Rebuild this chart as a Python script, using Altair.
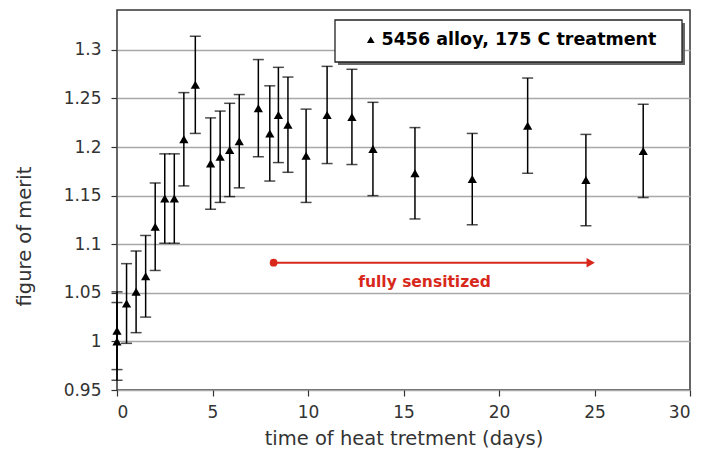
import altair as alt
import pandas as pd

# ---- data ----
days = [0, 0, 0.5, 1.0, 1.5, 2.0, 2.5, 3.0, 3.5, 4.1, 4.9, 5.4, 5.9, 6.4,
        7.4, 8.0, 8.45, 8.95, 9.9, 11.0, 12.3, 13.4, 15.6, 18.6, 21.5, 24.55, 27.55]
merit = [1.011, 1.000, 1.039, 1.051, 1.067, 1.118, 1.147, 1.147, 1.208, 1.264, 1.183, 1.190, 1.197, 1.206,
         1.240, 1.214, 1.233, 1.223, 1.191, 1.233, 1.231, 1.198, 1.173, 1.167, 1.222, 1.166, 1.196]
err = [0.040, 0.040, 0.041, 0.042, 0.042, 0.045, 0.046, 0.046, 0.048, 0.050, 0.047, 0.047, 0.048, 0.048,
       0.050, 0.049, 0.049, 0.049, 0.048, 0.050, 0.049, 0.048, 0.047, 0.047, 0.049, 0.047, 0.048]
series_name = "5456 alloy, 175 C treatment"

x_ticks = [0, 5, 10, 15, 20, 25, 30]
y_ticks = [0.95, 1.0, 1.05, 1.1, 1.15, 1.2, 1.25, 1.3]

arrow_start = [8.2]
arrow_end = [24.8]
arrow_level = [1.081]
note_text = ["fully sensitized"]
note_x = [16.1]
note_y = [1.061]

RED = "#d8281c"
FONT = "DejaVu Sans"

df = pd.DataFrame({"day": days, "merit": merit, "err": err})
df["lo"] = df["merit"] - df["err"]
df["hi"] = df["merit"] + df["err"]
df["series"] = series_name

xs = alt.Scale(domain=[0, 30], nice=False)
ys = alt.Scale(domain=[0.95, 1.341], nice=False, zero=False)

x_axis = alt.Axis(values=x_ticks, title="time of heat tretment (days)", grid=False,
                  tickSize=6, labelPadding=8, titlePadding=9)
y_axis = alt.Axis(values=y_ticks, format=".2~f", title="figure of merit", grid=True,
                  tickSize=6, labelPadding=10, titlePadding=29, titleY=226)

base = alt.Chart(df)

one = pd.DataFrame({"k": [0]})
shadow = alt.Chart(one).mark_rect(color="#666666").encode(
    x=alt.value(221), x2=alt.value(568), y=alt.value(13), y2=alt.value(55)
)
legend_box = alt.Chart(one).mark_rect(fill="white", stroke="#222222", strokeWidth=1.3).encode(
    x=alt.value(218), x2=alt.value(565), y=alt.value(10), y2=alt.value(52)
)

bars = base.mark_rule(color="black", strokeWidth=1.5).encode(
    x=alt.X("day:Q", scale=xs, axis=x_axis),
    y=alt.Y("lo:Q", scale=ys, axis=y_axis),
    y2="hi:Q",
)
cap_lo = base.mark_tick(orient="horizontal", color="black", size=11, thickness=1.5).encode(
    x=alt.X("day:Q", scale=xs), y=alt.Y("lo:Q", scale=ys)
)
cap_hi = base.mark_tick(orient="horizontal", color="black", size=11, thickness=1.5).encode(
    x=alt.X("day:Q", scale=xs), y=alt.Y("hi:Q", scale=ys)
)
points = base.mark_point(filled=True, opacity=1, size=85).encode(
    x=alt.X("day:Q", scale=xs),
    y=alt.Y("merit:Q", scale=ys),
    shape=alt.Shape("series:N", scale=alt.Scale(range=["triangle-up"]),
                    legend=alt.Legend(title=None, orient="none", legendX=245, legendY=21,
                                      padding=0,
                                      labelFont=FONT, labelFontSize=17.5, labelFontWeight="bold",
                                      labelColor="black", labelOffset=2, labelLimit=400,
                                      symbolFillColor="black", symbolStrokeColor="black",
                                      symbolSize=60)),
    color=alt.value("black"),
)

adf = pd.DataFrame({"x": arrow_start, "x2": arrow_end, "y": arrow_level})
arrow_line = alt.Chart(adf).mark_rule(color=RED, strokeWidth=2).encode(
    x=alt.X("x:Q", scale=xs), x2="x2:Q", y=alt.Y("y:Q", scale=ys)
)
arrow_dot = alt.Chart(adf).mark_point(filled=True, color=RED, opacity=1, size=60).encode(
    x=alt.X("x:Q", scale=xs), y=alt.Y("y:Q", scale=ys)
)
arrow_head = alt.Chart(adf).mark_point(filled=True, color=RED, opacity=1, size=90,
                                       shape="triangle-right").encode(
    x=alt.X("x2:Q", scale=xs), y=alt.Y("y:Q", scale=ys)
)
ndf = pd.DataFrame({"x": note_x, "y": note_y, "t": note_text})
note = alt.Chart(ndf).mark_text(color=RED, font=FONT, fontSize=15.5, fontWeight="bold",
                                align="center", baseline="middle").encode(
    x=alt.X("x:Q", scale=xs), y=alt.Y("y:Q", scale=ys), text="t:N"
)

chart = alt.layer(bars, cap_lo, cap_hi, points, shadow, legend_box,
                  arrow_line, arrow_dot, arrow_head, note).properties(
    width=573, height=380,
    autosize=alt.AutoSizeParams(type="none"),
    padding={"left": 109, "top": 2, "right": 18, "bottom": 58},
    background="white",
).configure_view(
    stroke="#333333", strokeWidth=1.5
).configure_axis(
    labelFont=FONT, titleFont=FONT, labelFontSize=17, titleFontSize=19.5,
    labelColor="#333333", titleColor="#333333", titleFontWeight="normal",
    domain=False, tickColor="#333333", tickWidth=1.2,
    gridColor="#a8a8a8", gridWidth=1.5,
)

chart.save("out.html", embed_options={"renderer": "svg", "actions": False})
